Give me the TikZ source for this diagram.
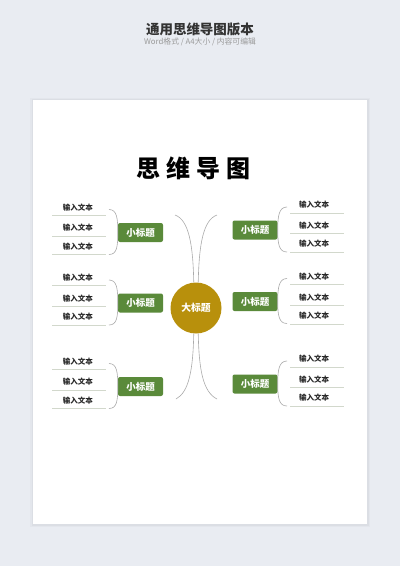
\documentclass[tikz,border=0pt]{standalone}
\usepackage{fontspec}
\newfontfamily\cjk{Noto Sans CJK SC}
\usetikzlibrary{calc}
\definecolor{bgc}{HTML}{E9ECF2}
\definecolor{boxgreen}{HTML}{5A8A3A}
\definecolor{gold}{HTML}{B8900C}
\definecolor{ulc}{HTML}{D2D8CC}
\definecolor{curvec}{HTML}{ABABAB}
\definecolor{titlec}{HTML}{333333}
\definecolor{subc}{HTML}{9A9A9A}
\begin{document}
\begin{tikzpicture}[x=1pt,y=-1pt,
  subbox/.style={fill=boxgreen, rounded corners=2pt, minimum width=45pt, minimum height=19pt, text=white, font=\cjk\bfseries\fontsize{9.5}{10}\selectfont, inner sep=0pt},
  item/.style={font=\cjk\bfseries\fontsize{7.5}{8}\selectfont, text=black!85, inner sep=0pt},
  uline/.style={draw=ulc, line width=0.6pt},
  brace/.style={draw=curvec, line width=0.6pt},
  branch/.style={draw=curvec, line width=0.6pt},
  hub/.style={circle, fill=gold, minimum size=51pt, inner sep=0pt, text=white, font=\cjk\bfseries\fontsize{9.8}{10}\selectfont}]
\useasboundingbox (0,0) rectangle (400,566);
\fill[bgc] (0,0) rectangle (400,566);
% page shadow
\fill[black, opacity=0.025] (30,98) rectangle (370,527);
\fill[black, opacity=0.03] (31.5,99) rectangle (368.5,525.5);
\fill[white] (33,100) rectangle (367,524);
% header
\node[font=\cjk\bfseries\fontsize{13.5}{14}\selectfont, text=titlec] (title) at (200,29) {通用思维导图版本};
\node[font=\cjk\fontsize{7.8}{8}\selectfont, text=subc] (subtitle) at (200,42) {Word格式 / A4大小 / 内容可编辑};
\node[font=\cjk\bfseries\fontsize{24}{26}\selectfont, text=black, inner sep=0pt] (big) at (193,168.5) {思\hspace{6pt}维\hspace{6pt}导\hspace{6pt}图};
% hub
\node[hub] (C) at (196,308) {大标题};
% left groups
\foreach \i/\c in {1/232.5,2/303,3/386.5} {
  \node[subbox] (L\i) at (140.5,\c) {小标题};
  \foreach \j/\t/\l in {1/-25/-17.5, 2/-4.5/3.5, 3/14/22} {
    \node[item] (Lt\i\j) at (78,\c+\t) {输入文本};
    \coordinate (La\i\j) at (52,\c+\l);
    \coordinate (Lb\i\j) at (106,\c+\l);
    \draw[uline] (La\i\j) -- (Lb\i\j);
  }
  \coordinate (Lu\i) at (109,\c-23);
  \coordinate (Ld\i) at (109,\c+22);
  \draw[brace] (Lu\i) .. controls +(8,0) and +(0,-14) .. (L\i.west) .. controls +(0,14) and +(8,0) .. (Ld\i);
}
% right groups
\foreach \i/\c in {1/230,2/301.5,3/384} {
  \node[subbox] (R\i) at (255,\c) {小标题};
  \foreach \j/\t/\l in {1/-25/-17, 2/-4/3.5, 3/14/22.5} {
    \node[item] (Rt\i\j) at (314,\c+\t) {输入文本};
    \coordinate (Ra\i\j) at (290,\c+\l);
    \coordinate (Rb\i\j) at (344,\c+\l);
    \draw[uline] (Ra\i\j) -- (Rb\i\j);
  }
  \coordinate (Ru\i) at (287,\c-23);
  \coordinate (Rd\i) at (287,\c+22);
  \draw[brace] (Ru\i) .. controls +(-8,0) and +(0,-14) .. (R\i.east) .. controls +(0,14) and +(-8,0) .. (Rd\i);
}
% branches from hub
\coordinate (e1) at (175,215);
\coordinate (e2) at (217,215);
\coordinate (e3) at (176,399);
\coordinate (e4) at (217,399);
\draw[branch] (C.95) .. controls (193,245) and (189,220) .. (e1);
\draw[branch] (C.85) .. controls (199,245) and (203,220) .. (e2);
\draw[branch] (C.265) .. controls (193,370) and (189,392) .. (e3);
\draw[branch] (C.275) .. controls (199,370) and (203,392) .. (e4);
\end{tikzpicture}
\end{document}
